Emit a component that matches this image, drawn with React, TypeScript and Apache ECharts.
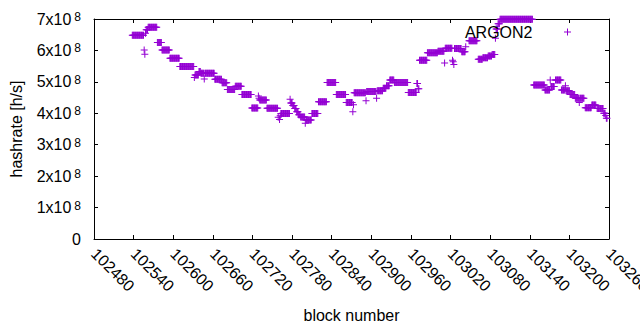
import React, { useEffect, useRef } from "react";
import * as echarts from "echarts";

const FONT = "'Liberation Sans', Arial, sans-serif";
const PURPLE = "#9400d3";

// x axis (block number)
const xMin = 102480;
const xMax = 103260;
const xStep = 60;

// y axis (hashrate, h/s)
const yMin = 0;
const yMax = 7e8;
const yStep = 1e8;
const yExponent = 8;

const seriesName = "ARGON2";

// runs of consecutive blocks with the same hashrate: [firstBlock, lastBlock, hashrate in 1e8 h/s]
const runs: [number, number, number][] = [
  [102538, 102555, 6.48],
  [102556, 102556, 6.01],
  [102557, 102557, 5.88],
  [102558, 102558, 6.55],
  [102559, 102561, 6.66],
  [102562, 102575, 6.74],
  [102576, 102582, 6.25],
  [102583, 102594, 6.01],
  [102595, 102609, 5.75],
  [102610, 102631, 5.49],
  [102632, 102632, 5.14],
  [102633, 102638, 5.22],
  [102639, 102641, 5.33],
  [102642, 102646, 5.27],
  [102647, 102647, 5.09],
  [102648, 102662, 5.27],
  [102663, 102673, 5.08],
  [102674, 102681, 4.97],
  [102682, 102693, 4.76],
  [102694, 102703, 4.86],
  [102704, 102718, 4.6],
  [102719, 102728, 4.17],
  [102729, 102729, 4.55],
  [102730, 102730, 4.48],
  [102731, 102741, 4.42],
  [102742, 102758, 4.16],
  [102759, 102759, 3.87],
  [102761, 102761, 3.8],
  [102762, 102762, 3.92],
  [102763, 102776, 3.99],
  [102777, 102777, 4.45],
  [102778, 102780, 4.33],
  [102781, 102783, 4.25],
  [102784, 102786, 4.15],
  [102787, 102789, 4.05],
  [102790, 102792, 3.95],
  [102793, 102799, 3.88],
  [102800, 102800, 3.68],
  [102801, 102809, 3.79],
  [102810, 102819, 3.99],
  [102820, 102832, 4.37],
  [102833, 102846, 4.98],
  [102847, 102861, 4.6],
  [102862, 102871, 4.34],
  [102872, 102872, 4.05],
  [102873, 102873, 4.27],
  [102874, 102891, 4.65],
  [102892, 102892, 4.4],
  [102893, 102907, 4.69],
  [102908, 102908, 4.48],
  [102909, 102917, 4.72],
  [102918, 102922, 4.8],
  [102923, 102927, 4.88],
  [102928, 102934, 5.06],
  [102935, 102955, 4.98],
  [102956, 102968, 4.66],
  [102969, 102970, 4.95],
  [102971, 102972, 4.78],
  [102973, 102984, 5.69],
  [102985, 103000, 5.93],
  [103001, 103010, 5.97],
  [103011, 103011, 5.6],
  [103012, 103022, 6.07],
  [103023, 103023, 5.69],
  [103024, 103024, 5.64],
  [103025, 103025, 5.55],
  [103026, 103036, 6.06],
  [103037, 103042, 5.96],
  [103043, 103043, 6.12],
  [103048, 103060, 6.31],
  [103062, 103068, 5.72],
  [103069, 103076, 5.77],
  [103077, 103082, 5.82],
  [103083, 103087, 5.87],
  [103088, 103088, 6.39],
  [103089, 103091, 6.68],
  [103092, 103094, 6.85],
  [103095, 103144, 6.99],
  [103146, 103162, 4.9],
  [103163, 103170, 4.74],
  [103171, 103171, 5.06],
  [103172, 103177, 4.85],
  [103179, 103187, 5.06],
  [103188, 103193, 4.74],
  [103194, 103194, 4.88],
  [103195, 103200, 4.72],
  [103201, 103208, 4.6],
  [103209, 103214, 4.48],
  [103215, 103215, 4.34],
  [103216, 103222, 4.48],
  [103224, 103233, 4.18],
  [103234, 103240, 4.26],
  [103242, 103251, 4.15],
  [103252, 103254, 4.0],
  [103255, 103255, 3.93],
  [103256, 103257, 3.84],
];

const PLUS = "path://M0,3H7V4H0ZM3,0H4V7H3Z";

function buildPoints(): [number, number][] {
  const pts: [number, number][] = [];
  for (const [a, b, v] of runs) {
    for (let blk = a; blk <= b; blk++) pts.push([blk, v * 1e8]);
  }
  return pts;
}

export default function App() {
  const ref = useRef<HTMLDivElement>(null);
  useEffect(() => {
    document.body.style.margin = "0";
    if (!ref.current) return;
    const chart = echarts.init(ref.current, undefined, { renderer: "svg" });
    const axisLine = { show: true, onZero: false, lineStyle: { color: "#000", width: 1 } };
    const axisTick = { show: true, inside: true, length: 4, lineStyle: { color: "#000", width: 1 } };
    const yFormatter = (v: number) => {
      if (v === 0) return "0";
      const m = Math.round(v / Math.pow(10, yExponent));
      return `{m|${m}x10}{s|${yExponent}}`;
    };
    const option: any = {
      animation: false,
      backgroundColor: "#fff",
      textStyle: { fontFamily: FONT },
      grid: {
        left: 94,
        right: 31,
        top: 19,
        bottom: 91,
        containLabel: false,
        outerBoundsMode: "none",
      },
      legend: {
        data: [{ name: seriesName, icon: PLUS }],
        right: 69,
        top: 24,
        itemWidth: 60,
        itemHeight: 7,
        align: "right",
        padding: 0,
        selectedMode: false,
        itemStyle: { opacity: 1 },
        textStyle: { fontSize: 16, color: "#000", fontFamily: FONT },
      },
      xAxis: [
        {
          type: "value",
          position: "bottom",
          min: xMin,
          max: xMax,
          interval: xStep,
          name: "block number",
          nameLocation: "middle",
          nameGap: 68,
          nameTextStyle: { fontSize: 16, color: "#000", fontFamily: FONT },
          axisLine,
          axisTick,
          axisLabel: {
            rotate: -45,
            fontSize: 16,
            color: "#000",
            margin: 12,
            fontFamily: FONT,
            showMinLabel: true,
            showMaxLabel: true,
            hideOverlap: false,
            formatter: (v: number) => String(v),
          },
          splitLine: { show: false },
        },
        {
          type: "value",
          position: "top",
          min: xMin,
          max: xMax,
          interval: xStep,
          axisLine,
          axisTick,
          axisLabel: { show: false },
          splitLine: { show: false },
        },
      ],
      yAxis: [
        {
          type: "value",
          position: "left",
          min: yMin,
          max: yMax,
          interval: yStep,
          name: "hashrate [h/s]",
          nameLocation: "middle",
          nameGap: 70,
          nameTextStyle: { fontSize: 16, color: "#000", fontFamily: FONT },
          axisLine,
          axisTick,
          axisLabel: {
            fontSize: 16,
            color: "#000",
            margin: 13,
            fontFamily: FONT,
            formatter: yFormatter,
            rich: {
              m: { fontSize: 16, color: "#000", fontFamily: FONT },
              s: { fontSize: 12, color: "#000", fontFamily: FONT, verticalAlign: "top", padding: [0, 0, 0, 3] },
            },
          },
          splitLine: { show: false },
        },
        {
          type: "value",
          position: "right",
          min: yMin,
          max: yMax,
          interval: yStep,
          axisLine,
          axisTick,
          axisLabel: { show: false },
          splitLine: { show: false },
        },
      ],
      series: [
        {
          type: "scatter",
          name: seriesName,
          data: buildPoints(),
          symbol: PLUS,
          symbolSize: 7,
          itemStyle: { color: PURPLE, opacity: 1 },
          clip: false,
          silent: true,
          emphasis: { disabled: true },
        },
      ],
    };
    chart.setOption(option);
    return () => chart.dispose();
  }, []);
  return <div ref={ref} style={{ position: "fixed", left: 0, top: 0, width: 640, height: 330 }} />;
}
